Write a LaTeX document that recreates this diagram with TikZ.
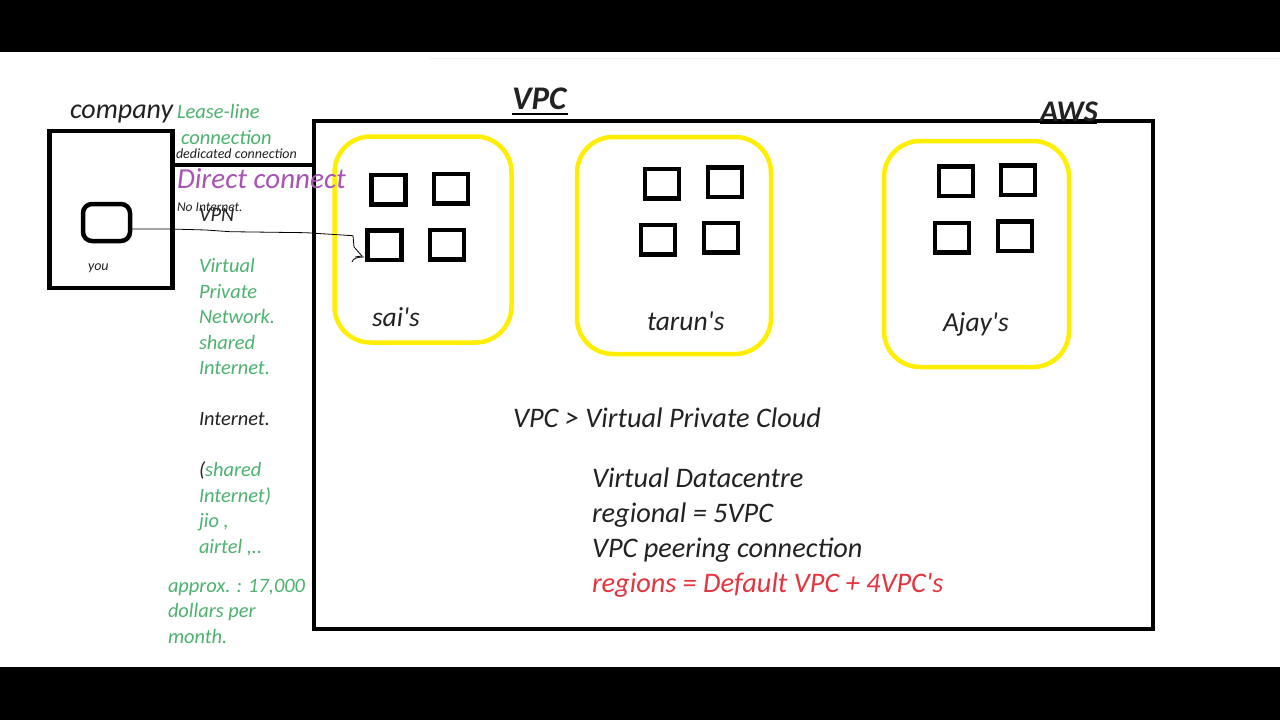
\documentclass[tikz,border=0pt]{standalone}
\usepackage{fontspec}
\setmainfont{Carlito}
\definecolor{gtext}{RGB}{76,178,110}
\definecolor{ptext}{RGB}{168,84,180}
\definecolor{rtext}{RGB}{228,52,62}
\definecolor{dtext}{RGB}{34,34,34}
\definecolor{ybord}{RGB}{255,238,0}
\newcommand{\apos}{\textquotesingle}
\begin{document}
\begin{tikzpicture}[x=1pt,y=-1pt,
  every node/.style={inner sep=0pt, outer sep=0pt, text=dtext},
  t/.style={font=\itshape\fontsize{#1}{#1}\selectfont, anchor=base west},
  gt/.style={t=20.4, text=gtext},
  ybox/.style={draw=ybord, line width=4.5pt, rounded corners=36pt},
  sq/.style={draw=black, line width=4.5pt, minimum width=34pt, minimum height=29.5pt},
  lease/.style={draw=black, line width=4.5pt},
  vpn/.style={draw=black, line width=0.8pt}]
\useasboundingbox (0,0) rectangle (1280,720);
\fill[white] (0,0) rectangle (1280,720);
\fill[black] (0,0) rectangle (1280,52);
\fill[black] (0,667) rectangle (1280,720);
\draw[black!6, line width=1pt] (430,58) -- (1280,58);

% company box
\node[draw=black, line width=4.5pt, minimum width=123pt, minimum height=157pt] (company) at (111,209.5) {};
\node[draw=black, line width=4.5pt, minimum width=47pt, minimum height=37pt, rounded corners=9pt] (you) at (106.5,222.5) {};
\node[t=14] (youlbl) at (88,270) {you};
\node[t=28] (complbl) at (70,118) {company};

% AWS box
\node[draw=black, line width=4.5pt, minimum width=839pt, minimum height=508pt] (aws) at (733.5,375) {};
\node[t=33, font=\bfseries\itshape\fontsize{33}{33}\selectfont] (vpctitle) at (512,109) {VPC};
\draw[line width=2pt] (512,114) -- (568,114);
\node[t=30, font=\bfseries\itshape\fontsize{30}{30}\selectfont] (awstitle) at (1040,121) {AWS};
\draw[line width=2pt] (1040,123) -- (1097,123);

% VPC yellow boxes
\draw[ybox] (334.5,136.5) rectangle (511.5,342.5);
\draw[ybox] (577,137) rectangle (771,354);
\draw[ybox] (884,141) rectangle (1069,367);

% squares
\node[sq] (s11) at (388.5,189.7) {};
\node[sq] (s12) at (451,188.8) {};
\node[sq] (s13) at (384.5,245.3) {};
\node[sq] (s14) at (447.2,244.5) {};
\node[sq] (s21) at (662,183.5) {};
\node[sq] (s22) at (725,182) {};
\node[sq] (s23) at (658,239.5) {};
\node[sq] (s24) at (721,237.5) {};
\node[sq] (s31) at (956,181) {};
\node[sq] (s32) at (1018,180) {};
\node[sq] (s33) at (952,237.5) {};
\node[sq] (s34) at (1015,236) {};

\node[t=27.5] (sai) at (372,326) {sai\apos s};
\node[t=27.5] (tarun) at (647,330) {tarun\apos s};
\node[t=27.5] (ajay) at (943,331) {Ajay\apos s};

% lease line connection
\coordinate (lh) at (0,165);
\draw[lease] (company.east |- lh) -- (aws.west |- lh);
\node[t=20.5, text=gtext] (ll1) at (177,118) {Lease-line};
\node[t=20.5, text=gtext] (ll2) at (181,144) {connection};
\node[t=14] (dc) at (176,158) {dedicated connection};
\node[t=29, text=ptext] (dcon) at (177,188) {Direct connect};
\node[t=13.5] (noint) at (177,211) {No Internet.};
\node[t=20.5, text=black!85] (vpnlbl) at (199,221) {VPN};

% VPN line
\coordinate (vs) at (0,229);
\coordinate (vpnend) at (354,247);
\draw[vpn] (you.east |- vs) -- (170,229) -- (206,230) -- (230,231.7) -- (306,232.7) -- (353,235.7) -- (vpnend) -- (362,256) -- (355,257);
\draw[vpn] (352,262) .. controls (353,258) and (358,257) .. (364,257);

% left column text
\node[gt] (c1) at (199,272.5) {Virtual};
\node[gt] (c2) at (199,298) {Private};
\node[gt] (c3) at (199,323.5) {Network.};
\node[gt] (c4) at (199,349) {shared};
\node[gt] (c5) at (199,374.5) {Internet.};
\node[t=20.4] (c6) at (199,425.5) {Internet.};
\node[gt] (c7) at (199,476.5) {\textcolor{dtext}{(}shared};
\node[gt] (c8) at (199,502) {Internet)};
\node[gt] (c9) at (199,527.5) {jio ,};
\node[gt] (c10) at (199,553) {airtel ,..};
\node[gt] (c11) at (168,592) {approx. : 17,000};
\node[gt] (c12) at (168,617.5) {dollars per};
\node[gt] (c13) at (168,643) {month.};

% central notes
\node[t=28.3] (n1) at (513,427) {VPC > Virtual Private Cloud};
\node[t=28.3] (n2) at (592,487) {Virtual Datacentre};
\node[t=28.3] (n3) at (592,522) {regional = 5VPC};
\node[t=28.3] (n4) at (592,557) {VPC peering connection};
\node[t=28.3, text=rtext] (n5) at (592,592) {regions = Default VPC + 4VPC\apos s};
\end{tikzpicture}
\end{document}
